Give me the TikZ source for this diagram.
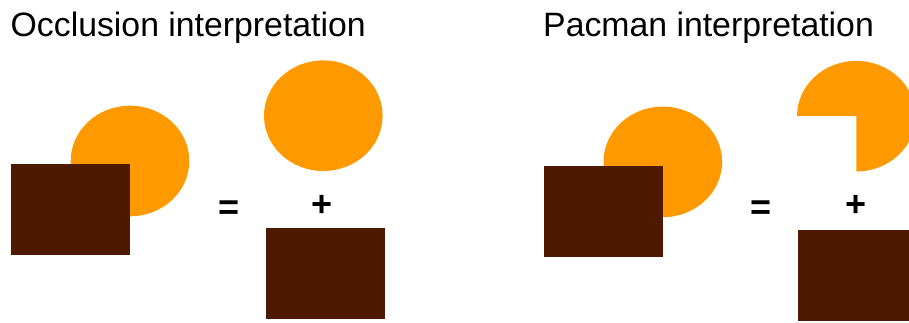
\documentclass[tikz,border=0pt]{standalone}
\usepackage{fontspec}
\setmainfont{Liberation Sans}
\usetikzlibrary{shapes.geometric}
\definecolor{disc}{RGB}{255,153,0}
\definecolor{block}{RGB}{77,25,0}

\begin{document}
\begin{tikzpicture}[x=1pt,y=-1pt]
    \tikzstyle{title}=[inner sep=0pt,anchor=base west,font=\fontsize{33.8}{38}\selectfont]
    \tikzstyle{disk}=[shape=ellipse,fill=disc,minimum width=118.6pt,minimum height=110.6pt,inner sep=0pt]
    \tikzstyle{square}=[shape=rectangle,fill=block,minimum width=119pt,minimum height=90.7pt,inner sep=0pt]
    \tikzstyle{sign}=[inner sep=0pt,font=\fontsize{36}{40}\selectfont\bfseries]

    \useasboundingbox (0,0) rectangle (909,322);

    % occlusion
    \node[title] (t1) at (10.5,36.3) {Occlusion interpretation};
    \node[disk] (c1) at (130,161) {};
    \node[square] (b1) at (70.5,209.7) {};
    \node[sign] (eq1) at (229,210) {=};
    \node[disk] (c2) at (323.3,115.7) {};
    \node[sign] (p1) at (322,206) {+};
    \node[square] (b2) at (325.2,273.7) {};

    % pacman
    \node[title] (t2) at (543,36.3) {Pacman interpretation};
    \node[disk] (c3) at (662.8,161.9) {};
    \node[square] (b3) at (603.3,211.5) {};
    \node[sign] (eq2) at (761,210.5) {=};
    \coordinate (pac) at (856.3,116.2);
    \fill[disc] (pac) -- ++(-59.3,0) arc[start angle=180,end angle=450,x radius=59.3,y radius=55.3] -- cycle;
    \node[sign] (p2) at (855.5,206) {+};
    \node[square] (b4) at (857.8,275.5) {};
\end{tikzpicture}
\end{document}
